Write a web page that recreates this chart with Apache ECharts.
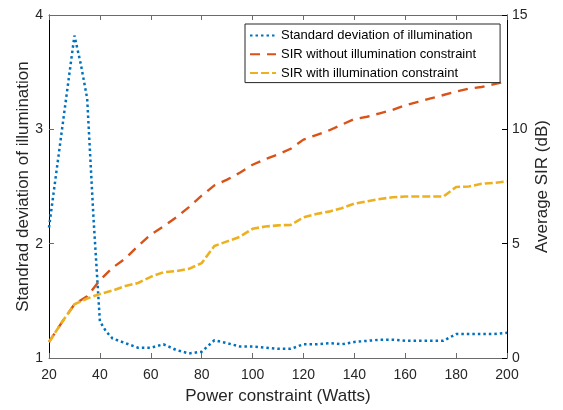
<!DOCTYPE html>
<html>
<head>
<meta charset="utf-8">
<script src="https://cdn.jsdelivr.net/npm/echarts@6/dist/echarts.min.js"></script>
<style>
html,body{margin:0;padding:0;background:#fff;}
#chart{width:563px;height:410px;}
</style>
</head>
<body>
<div id="chart"></div>
<script>
// ---- data ----
const powers = [20,25,30,35,40,45,50,55,60,65,70,75,80,85,90,95,100,105,110,115,120,125,130,135,140,145,150,155,160,165,170,175,180,185,190,195,200];
const stdPowers = [20,25,30,32.5,35,37.5,40,42.5,45,50,55,60,65,70,75,80,85,90,95,100,105,110,115,120,125,130,135,140,145,150,155,160,165,170,175,180,185,190,195,200];
const stdIllum = [2.14,2.98,3.82,3.57,3.27,2.22,1.32,1.23,1.17,1.13,1.09,1.09,1.12,1.07,1.04,1.055,1.155,1.13,1.10,1.10,1.09,1.08,1.08,1.12,1.12,1.13,1.12,1.14,1.15,1.16,1.16,1.15,1.15,1.15,1.15,1.21,1.21,1.21,1.21,1.22];
const sirWithout = [0.7,1.55,2.35,2.7,3.4,3.95,4.35,4.9,5.4,5.75,6.15,6.6,7.1,7.55,7.8,8.1,8.45,8.7,8.9,9.15,9.55,9.75,9.95,10.2,10.45,10.55,10.7,10.85,11.05,11.2,11.35,11.5,11.65,11.78,11.85,11.98,12.1];
const sirWith = [0.7,1.55,2.35,2.6,2.8,2.95,3.15,3.28,3.55,3.75,3.8,3.9,4.15,4.9,5.1,5.3,5.65,5.75,5.8,5.82,6.15,6.3,6.4,6.55,6.75,6.85,6.95,7.03,7.06,7.06,7.06,7.06,7.48,7.5,7.62,7.66,7.72];
const seriesNames = ['Standard deviation of illumination','SIR without illumination constraint','SIR with illumination constraint'];
const xTicks = [20,200,20];   // min, max, interval
const leftTicks = [1,4,1];
const rightTicks = [0,15,5];

const FONT = '"Liberation Sans", Arial, Helvetica, sans-serif';
const TXT = '#262626';
const pair = (xs, ys) => xs.map((x,i)=>[x, ys[i]]);

const chart = echarts.init(document.getElementById('chart'), null, {renderer:'canvas'});
chart.setOption({
  animation:false,
  backgroundColor:'#fff',
  textStyle:{fontFamily:FONT},
  grid:{left:49,right:56,top:15,bottom:47,containLabel:false},
  legend:{
    data:seriesNames,
    orient:'vertical',
    left:245, top:24,
    itemWidth:26, itemHeight:12, itemGap:5.8,
    padding:[5,24,3,4],
    borderColor:'#262626', borderWidth:1, borderRadius:0,
    backgroundColor:'#fff',
    itemStyle:{opacity:0},
    textStyle:{fontSize:13,color:'#000',fontFamily:FONT}
  },
  xAxis:[{
    type:'value', min:xTicks[0], max:xTicks[1], interval:xTicks[2],
    name:'Power constraint (Watts)', nameLocation:'middle', nameGap:30, nameMoveOverlap:false,
    nameTextStyle:{fontSize:17,color:TXT,fontFamily:FONT},
    axisLine:{show:true,lineStyle:{color:'#6b6b6b',width:1}},
    axisTick:{show:true,inside:true,length:5,lineStyle:{color:'#6b6b6b'}},
    axisLabel:{fontSize:14,color:TXT,margin:10,fontFamily:FONT},
    splitLine:{show:false}
  },{
    type:'value', min:xTicks[0], max:xTicks[1], interval:xTicks[2], position:'top',
    axisLine:{show:true,lineStyle:{color:'#6b6b6b',width:1}},
    axisTick:{show:true,inside:true,length:5,lineStyle:{color:'#6b6b6b'}},
    axisLabel:{show:false}, splitLine:{show:false}
  }],
  yAxis:[{
    type:'value', min:leftTicks[0], max:leftTicks[1], interval:leftTicks[2], position:'left',
    name:'Standrad deviation of illumination', nameLocation:'middle', nameGap:17, nameMoveOverlap:false,
    nameTextStyle:{fontSize:17,color:TXT,fontFamily:FONT},
    axisLine:{show:true,lineStyle:{color:'#000',width:1}},
    axisTick:{show:true,inside:true,length:5,lineStyle:{color:'#6b6b6b'}},
    axisLabel:{fontSize:14,color:TXT,margin:6,fontFamily:FONT},
    splitLine:{show:false}
  },{
    type:'value', min:rightTicks[0], max:rightTicks[1], interval:rightTicks[2], position:'right',
    name:'Average SIR (dB)', nameLocation:'middle', nameGap:27, nameMoveOverlap:false,
    nameTextStyle:{fontSize:17,color:TXT,fontFamily:FONT},
    axisLine:{show:true,lineStyle:{color:'#000',width:1}},
    axisTick:{show:true,inside:true,length:5,lineStyle:{color:'#000'}},
    axisLabel:{fontSize:14,color:TXT,margin:5,fontFamily:FONT},
    splitLine:{show:false}
  }],
  series:[{
    name:seriesNames[0], type:'line', xAxisIndex:0, yAxisIndex:0,
    data:pair(stdPowers,stdIllum), symbol:'none', smooth:false,
    lineStyle:{color:'#0072BD',width:2.5,type:[2.5,3],cap:'butt'},
    itemStyle:{color:'#0072BD'}
  },{
    name:seriesNames[1], type:'line', xAxisIndex:0, yAxisIndex:1,
    data:pair(powers,sirWithout), symbol:'none',
    lineStyle:{color:'#D95319',width:2.4,type:[10,7],cap:'butt'},
    itemStyle:{color:'#D95319'}
  },{
    name:seriesNames[2], type:'line', xAxisIndex:0, yAxisIndex:1,
    data:pair(powers,sirWith), symbol:'none',
    lineStyle:{color:'#EDB120',width:2.6,type:[8,3],cap:'butt'},
    itemStyle:{color:'#EDB120'}
  }]
});
</script>
</body>
</html>
